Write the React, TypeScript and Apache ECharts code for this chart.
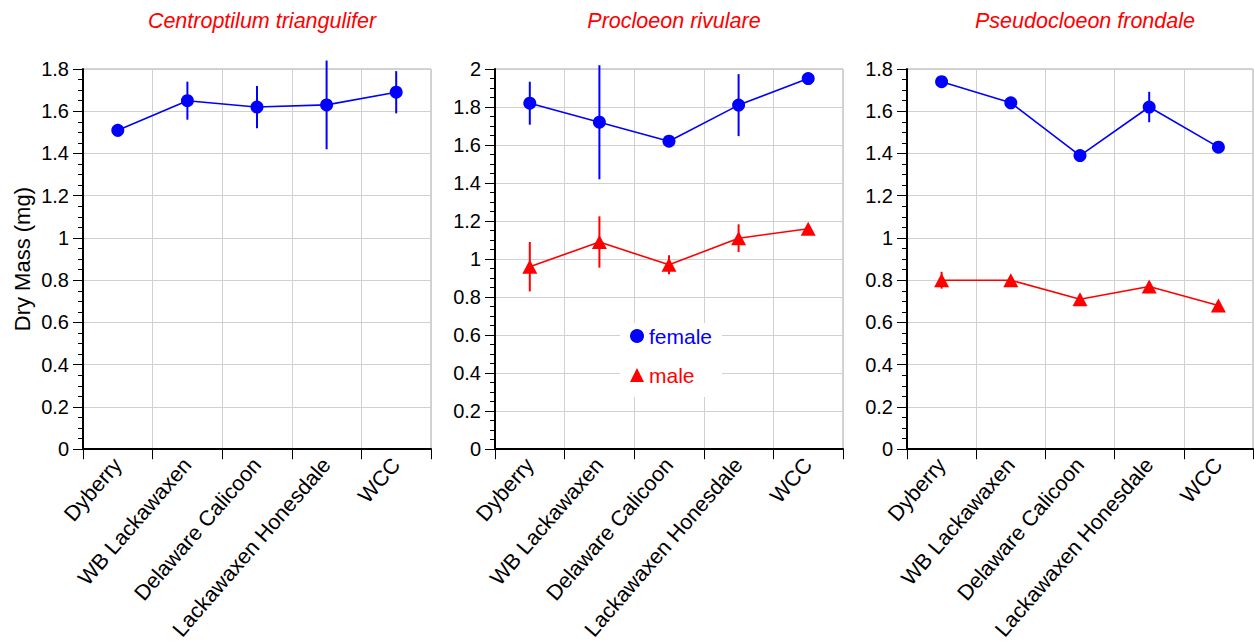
import React, { useEffect, useRef } from "react";
import * as echarts from "echarts";

// Sampling sites (x categories shared by all three panels)
const sites = ["Dyberry", "WB Lackawaxen", "Delaware Calicoon", "Lackawaxen Honesdale", "WCC"];

const speciesTitles = ["Centroptilum triangulifer", "Procloeon rivulare", "Pseudocloeon frondale"];

// Mean dry mass (mg) and standard error per site
const ctFemaleMean = [1.51, 1.65, 1.62, 1.63, 1.69];
const ctFemaleErr = [0.03, 0.09, 0.1, 0.21, 0.1];

const prFemaleMean = [1.82, 1.72, 1.62, 1.81, 1.95];
const prFemaleErr = [0.113, 0.3, 0.01, 0.163, 0.01];
const prMaleMean = [0.96, 1.09, 0.97, 1.11, 1.16];
const prMaleErr = [0.13, 0.135, 0.05, 0.073, 0.01];

const pfFemaleMean = [1.74, 1.64, 1.39, 1.62, 1.43];
const pfFemaleErr = [0.01, 0.01, 0.01, 0.072, 0.01];
const pfMaleMean = [0.8, 0.8, 0.71, 0.77, 0.68];
const pfMaleErr = [0.04, 0.01, 0.01, 0.01, 0.01];

const yMax = [1.8, 2, 1.8];

const BLUE = "#0000ff";
const RED = "#ff0000";
const FONT = "Liberation Sans, Arial, Helvetica, sans-serif";

const grids = [
  { left: 83, top: 69, width: 348, height: 381 },
  { left: 495, top: 69, width: 348, height: 381 },
  { left: 907, top: 69, width: 346, height: 381 },
];

function errorSeries(idx: number, mean: number[], err: number[], color: string) {
  return {
    type: "custom",
    xAxisIndex: idx,
    yAxisIndex: idx,
    clip: false,
    silent: true,
    data: mean.map((m, i) => [i, m, err[i]]),
    encode: { x: 0, y: 1 },
    renderItem: (params: any, api: any) => {
      const i = api.value(0);
      const m = api.value(1);
      const e = api.value(2);
      const lo = api.coord([i, m - e]);
      const hi = api.coord([i, m + e]);
      return {
        type: "line",
        shape: { x1: lo[0], y1: lo[1], x2: hi[0], y2: hi[1] },
        style: { stroke: color, lineWidth: 2 },
      };
    },
    z: 2,
  };
}

function lineSeries(idx: number, name: string, mean: number[], color: string, symbol: string) {
  return {
    type: "line",
    name,
    xAxisIndex: idx,
    yAxisIndex: idx,
    data: mean,
    symbol,
    symbolSize: symbol === "circle" ? 13 : [15, 14],
    showAllSymbol: true,
    lineStyle: { color, width: 1.6 },
    itemStyle: { color },
    z: 3,
  };
}

export default function App() {
  const ref = useRef<HTMLDivElement>(null);

  useEffect(() => {
    if (!ref.current) return;
    const chart = echarts.init(ref.current, null, { renderer: "svg" });

    const xAxis = grids.map((_, i) => ({
      type: "category",
      gridIndex: i,
      data: sites,
      boundaryGap: true,
      axisLine: { lineStyle: { color: "#000", width: 2 } },
      axisTick: { show: true, length: 10, lineStyle: { color: "#000" }, interval: 0 },
      axisLabel: { rotate: 49, interval: 0, margin: 12, fontSize: 21.5, color: "#000", fontFamily: FONT },
      splitLine: { show: true, interval: 0, lineStyle: { color: "#d0d0d0", width: 1 } },
    }));

    const yAxis = grids.map((_, i) => ({
      type: "value",
      gridIndex: i,
      min: 0,
      max: yMax[i],
      interval: 0.2,
      name: i === 0 ? "Dry Mass (mg)" : "",
      nameLocation: "middle",
      nameGap: 50,
      nameTextStyle: { fontSize: 22, color: "#000", fontFamily: FONT },
      axisLine: { show: true, lineStyle: { color: "#000", width: 2 } },
      axisTick: { show: true, length: 10, lineStyle: { color: "#000" } },
      minorTick: { show: true, splitNumber: 4, length: 5, lineStyle: { color: "#000" } },
      axisLabel: { margin: 14, fontSize: 20, color: "#000", fontFamily: FONT },
      splitLine: { show: true, lineStyle: { color: "#d0d0d0", width: 1 } },
    }));

    const titles = grids.map((g, i) => ({
      text: speciesTitles[i],
      left: g.left + g.width / 2,
      top: 5,
      textAlign: "center",
      textStyle: { color: RED, fontStyle: "italic", fontWeight: "normal", fontSize: 21.5, fontFamily: FONT },
    }));

    chart.setOption({
      animation: false,
      backgroundColor: "#fff",
      title: titles,
      grid: grids.map((g) => ({ ...g, show: true, borderColor: "#a8a8a8", borderWidth: 1, backgroundColor: "transparent" })),
      legend: {
        orient: "vertical",
        left: 620,
        top: 323,
        padding: [2, 10, 11, 10],
        backgroundColor: "#fff",
        itemWidth: 14,
        itemHeight: 14,
        itemGap: 17,
        selectedMode: false,
        textStyle: { fontSize: 21, fontFamily: FONT, lineHeight: 22 },
        data: [
          { name: "female", icon: "circle", textStyle: { color: BLUE } },
          { name: "male", icon: "triangle", textStyle: { color: RED } },
        ],
        z: 10,
      },
      xAxis,
      yAxis,
      series: [
        errorSeries(0, ctFemaleMean, ctFemaleErr, BLUE),
        lineSeries(0, "female", ctFemaleMean, BLUE, "circle"),
        errorSeries(1, prFemaleMean, prFemaleErr, BLUE),
        errorSeries(1, prMaleMean, prMaleErr, RED),
        lineSeries(1, "female", prFemaleMean, BLUE, "circle"),
        lineSeries(1, "male", prMaleMean, RED, "triangle"),
        errorSeries(2, pfFemaleMean, pfFemaleErr, BLUE),
        errorSeries(2, pfMaleMean, pfMaleErr, RED),
        lineSeries(2, "female", pfFemaleMean, BLUE, "circle"),
        lineSeries(2, "male", pfMaleMean, RED, "triangle"),
      ],
    });

    return () => chart.dispose();
  }, []);

  return (
    <div
      ref={ref}
      style={{ position: "fixed", left: 0, top: 0, width: 1254, height: 643, background: "#fff" }}
    />
  );
}
